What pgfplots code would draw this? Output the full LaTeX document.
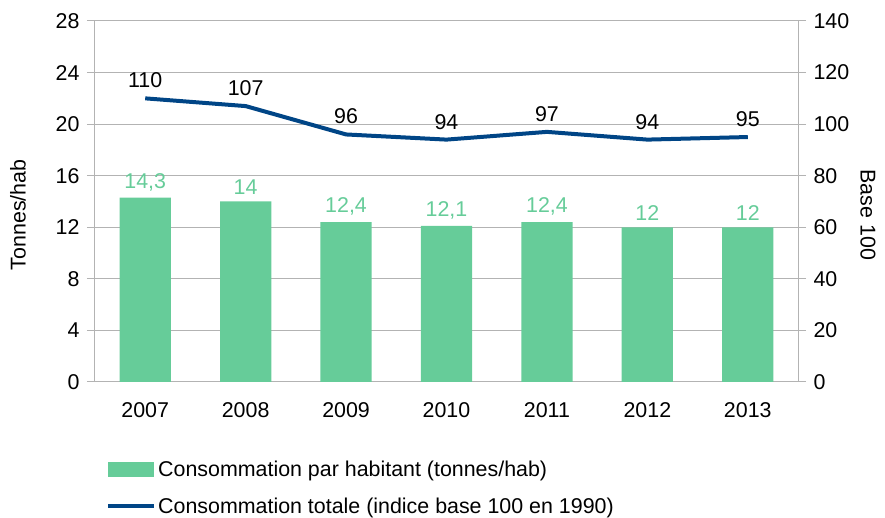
\documentclass[border=0pt]{standalone}
\usepackage{fontspec}
\setmainfont{Liberation Sans}
\usepackage{pgfplots}
\pgfplotsset{compat=1.18}
\definecolor{bargreen}{HTML}{66CC99}
\definecolor{lineblue}{HTML}{004586}
\definecolor{gridgray}{HTML}{B3B3B3}
\newcommand{\chartfont}{\fontsize{21.4}{25}\selectfont}
\begin{document}
\begin{tikzpicture}
\pgfplotsset{
  every axis/.append style={
    scale only axis, width=703pt, height=361pt,
    xmin=-0.5, xmax=6.5,
    /pgf/number format/assume math mode=true,
    tick label style={font=\chartfont},
    axis line style={gridgray, line width=1pt},
    major tick length=8pt,
    every tick/.style={gridgray, line width=1pt},
    tick align=outside,
  }
}
% Left axis: consumption per inhabitant (bars)
\begin{axis}[
  name=main,
  axis y line*=left, axis x line*=bottom,
  ymin=0, ymax=28, ytick={0,4,...,28},
  ymajorgrids, grid style={gridgray, line width=1pt},
  xtick={0,...,6},
  xticklabels={2007,2008,2009,2010,2011,2012,2013},
  x tick style={draw=none},
  extra x ticks={-0.5,0.5,...,6.5},
  extra x tick labels={},
  extra x tick style={grid=none, tick style={gridgray, line width=1pt, draw=gridgray}},
  xticklabel style={yshift=-9pt},
  yticklabel style={xshift=-4pt},
  ylabel={Tonnes/hab},
  ylabel style={font=\chartfont, at={(axis description cs:-0.1095,0.463)}, anchor=center, rotate=0},
  legend style={draw=none, fill=none, at={(axis description cs:0.0156,-0.212)}, anchor=north west,
    font=\chartfont, inner sep=0pt, row sep=16pt,
    /tikz/every even column/.append style={column sep=8pt}},
  legend cell align=left,
]
\addplot[ybar, bar width=0.51, fill=bargreen, draw=none,
  nodes near coords,
  nodes near coords style={font=\chartfont, text=bargreen, yshift=3pt,
    /pgf/number format/use comma, /pgf/number format/assume math mode=true},
  legend image code/.code={\fill[bargreen] (0pt,-7.5pt) rectangle (46pt,7.5pt);}]
  coordinates {(0,14.3) (1,14) (2,12.4) (3,12.1) (4,12.4) (5,12) (6,12)};
\addlegendentry{Consommation par habitant (tonnes/hab)}
\addlegendimage{legend image code/.code={\draw[lineblue, line width=4pt] (0pt,0pt) -- (46pt,0pt);}}
\addlegendentry{Consommation totale (indice base 100 en 1990)}
\end{axis}
% Right axis: total consumption index (line)
\begin{axis}[
  axis y line*=right, axis x line=none,
  ymin=0, ymax=140, ytick={0,20,...,140},
  yticklabel style={xshift=4pt},
  ylabel={Base 100},
  ylabel style={font=\chartfont, at={(axis description cs:1.0996,0.463)}, anchor=center, rotate=180},
]
\addplot[lineblue, line width=4pt, mark=none,
  nodes near coords,
  nodes near coords style={font=\chartfont, text=black, yshift=5pt}]
  coordinates {(0,110) (1,107) (2,96) (3,94) (4,97) (5,94) (6,95)};
\end{axis}
\pgfresetboundingbox
\path (main.south west) ++(-95pt,-136pt) rectangle ++(885pt,518pt);
\end{tikzpicture}
\end{document}
